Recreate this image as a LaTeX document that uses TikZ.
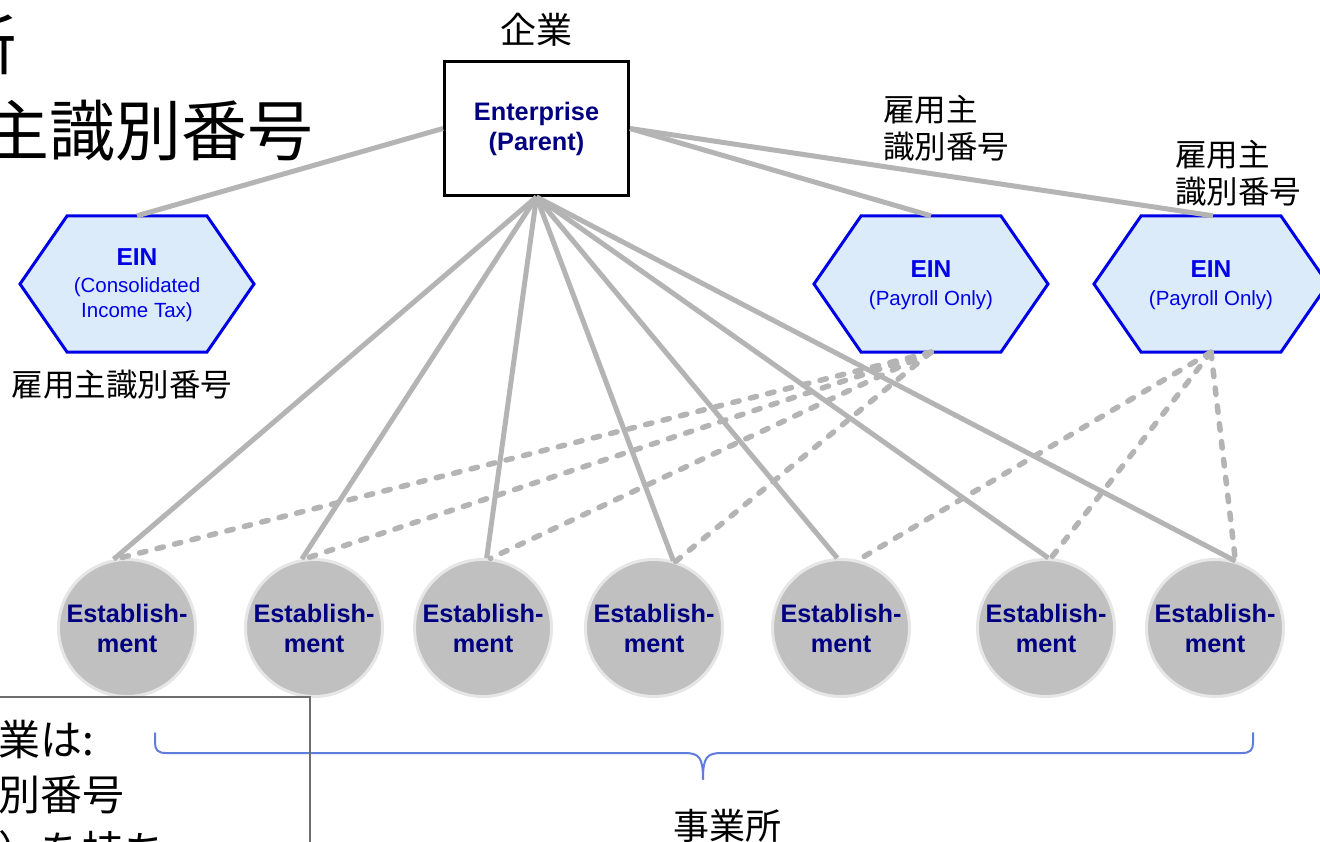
\documentclass[tikz,border=0pt]{standalone}
\usepackage{fontspec}
\setmainfont{Liberation Sans}
\newfontfamily\jpfont{Noto Sans CJK JP}
\usetikzlibrary{calc}
\definecolor{conn}{RGB}{180,180,180}
\definecolor{navytext}{RGB}{0,0,128}
\definecolor{hexblue}{RGB}{0,0,230}
\definecolor{hexfill}{RGB}{220,235,250}
\definecolor{estfill}{RGB}{192,192,192}
\definecolor{estedge}{RGB}{230,230,230}
\definecolor{bracecol}{RGB}{95,125,220}
\definecolor{boxedge}{RGB}{110,110,110}
\newcommand\hexat[2]{\draw[hexshape] (#1,#2) ++(-117,0) -- ++(47,-68) -- ++(140,0) -- ++(47,68) -- ++(-47,68) -- ++(-140,0) -- cycle;}
\begin{document}
\begin{tikzpicture}[x=1pt,y=-1pt,
  solidconn/.style={draw=conn, line width=5pt},
  dashconn/.style={draw=conn, line width=5.5pt, line cap=round, dash pattern=on 6.5pt off 11.5pt},
  hexshape/.style={draw=hexblue, fill=hexfill, line width=3pt, line join=miter},
  hexnode/.style={minimum width=140pt, minimum height=136pt, inner sep=0pt, align=center, text=hexblue, font=\fontsize{20.5}{24.5}\selectfont},
  estnode/.style={circle, fill=estfill, draw=estedge, line width=3pt, minimum size=137pt, inner sep=0pt, align=center, text=navytext, font=\bfseries\fontsize{25.3}{30}\selectfont},
  entnode/.style={draw=black, line width=3pt, fill=white, minimum width=184pt, minimum height=134pt, inner sep=0pt, align=center, text=navytext, font=\bfseries\fontsize{25.3}{30}\selectfont},
  jplabel/.style={inner sep=0pt, font=\jpfont\fontsize{31.5}{37}\selectfont},
  bigjp/.style={inner sep=0pt, font=\jpfont\fontsize{66}{86}\selectfont},
  boxjp/.style={inner sep=0pt, font=\jpfont\fontsize{42}{55}\selectfont},
  bracestyle/.style={draw=bracecol, line width=2pt, line cap=round}
]
\useasboundingbox (0,0) rectangle (1320,842);
\fill[white] (0,0) rectangle (1320,842);
\clip (0,0) rectangle (1320,842);

% big cropped title text
\node[bigjp, anchor=east] (t1) at (17,45) {所};
\node[bigjp, anchor=east] (t2) at (314,131) {主識別番号};

% enterprise
\node[jplabel] (entlab) at (536,30) {\fontsize{36}{40}\selectfont 企業};
\node[entnode] (ent) at (536.5,128.5) {Enterprise\\(Parent)};

% hexagons
\hexat{137}{284}
\hexat{931}{284}
\hexat{1211}{284}
\node[hexnode] (h1) at (137,285) {{\bfseries\fontsize{24.5}{24.5}\selectfont EIN}\\[3pt](Consolidated\\Income Tax)};
\node[hexnode] (h2) at (931,285) {{\bfseries\fontsize{24.5}{24.5}\selectfont EIN}\\[3pt](Payroll Only)};
\node[hexnode] (h3) at (1211,285) {{\bfseries\fontsize{24.5}{24.5}\selectfont EIN}\\[3pt](Payroll Only)};

\node[jplabel] (h1lab) at (122,385) {雇用主識別番号};
\node[jplabel, anchor=north west, align=left] (h2lab) at (883,95) {雇用主\\識別番号};
\node[jplabel, anchor=north west, align=left] (h3lab) at (1175,140) {雇用主\\識別番号};

% establishments
\node[estnode] (e1) at (127,628) {Establish-\\ment};
\node[estnode] (e2) at (314,628) {Establish-\\ment};
\node[estnode] (e3) at (483,628) {Establish-\\ment};
\node[estnode] (e4) at (654,628) {Establish-\\ment};
\node[estnode] (e5) at (841,628) {Establish-\\ment};
\node[estnode] (e6) at (1046,628) {Establish-\\ment};
\node[estnode] (e7) at (1215,628) {Establish-\\ment};

% solid connectors
\draw[solidconn] (ent.west) -- ($(h1.north)+(0,-1)$);
\draw[solidconn] (ent.east) -- ($(h2.north)+(0,-1)$);
\draw[solidconn] (ent.east) -- ($(h3.north)+(2,-1)$);
\foreach \e/\a in {e1/101,e2/100,e3/87,e4/74,e5/93,e6/88,e7/73}
  \draw[solidconn] (ent.south) -- (\e.\a);

% dashed connectors
\foreach \e/\a in {e1/98,e2/97,e3/84,e4/72}
  \draw[dashconn] ($(h2.south)+(0,-1)$) -- (\e.\a);
\foreach \e/\a in {e5/76,e6/86,e7/73}
  \draw[dashconn] ($(h3.south)+(0,-1)$) -- (\e.\a);

% brace
\coordinate (bl) at (155,733);
\coordinate (br) at (1253,733);
\coordinate (btip) at (703,779);
\draw[bracestyle] (bl) -- (155,743) .. controls (155,750) and (158,753) .. (166,753) -- (684,753)
  .. controls (699,753) and (703,757) .. (btip);
\draw[bracestyle] (br) -- (1253,743) .. controls (1253,750) and (1250,753) .. (1242,753) -- (722,753)
  .. controls (707,753) and (703,757) .. (btip);
\node[jplabel] (brlab) at (727,826) {\fontsize{36}{40}\selectfont 事業所};

% bottom-left box
\draw[boxedge, line width=2pt] (-10,697) -- (310,697) -- (310,860);
\node[boxjp, anchor=west] (b1) at (-2,740) {業は:};
\node[boxjp, anchor=west] (b2) at (-2,795) {別番号};
\node[boxjp, anchor=west] (b3) at (-2,851) {）を持ち};
\end{tikzpicture}
\end{document}
